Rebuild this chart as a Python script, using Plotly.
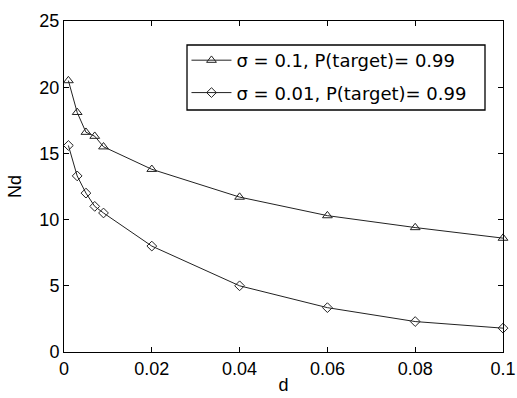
import plotly.graph_objects as go

d_vals = [0.001, 0.003, 0.005, 0.007, 0.009, 0.02, 0.04, 0.06, 0.08, 0.1]
nd_sigma_01 = [20.5, 18.1, 16.6, 16.3, 15.5, 13.8, 11.7, 10.3, 9.4, 8.6]
nd_sigma_001 = [15.6, 13.3, 12.0, 11.0, 10.5, 8.0, 5.0, 3.35, 2.3, 1.8]
series_names = ["σ = 0.1, P(target)= 0.99", "σ = 0.01, P(target)= 0.99"]
x_ticks = [0, 0.02, 0.04, 0.06, 0.08, 0.1]
x_tick_text = ["0", "0.02", "0.04", "0.06", "0.08", "0.1"]
y_ticks = [0, 5, 10, 15, 20, 25]

FONT = "Liberation Sans, Arial"

fig = go.Figure()
fig.add_trace(go.Scatter(
    x=d_vals, y=nd_sigma_01, mode="lines+markers", name=series_names[0],
    legendgroup="a",
    line=dict(color="#222222", width=1),
    marker=dict(symbol="triangle-up-open", size=8.5, color="#222222", line=dict(width=1)),
    cliponaxis=False,
))
fig.add_trace(go.Scatter(
    x=d_vals, y=nd_sigma_001, mode="lines+markers", name=series_names[1],
    legendgroup="b",
    line=dict(color="#222222", width=1),
    marker=dict(symbol="diamond-open", size=7.5, color="#222222", line=dict(width=1)),
    cliponaxis=False,
))

axis_common = dict(
    showgrid=False, zeroline=False, showline=True, linecolor="black", linewidth=1,
    mirror="ticks", ticks="inside", ticklen=5, tickcolor="black", automargin=False,
    tickfont=dict(family=FONT, size=18, color="black"),
)
fig.update_xaxes(range=[0, 0.1], tickvals=x_ticks, ticktext=x_tick_text,
                 title=dict(text="d", font=dict(family=FONT, size=18, color="black"), standoff=0),
                 **axis_common)
fig.update_yaxes(range=[0, 25], tickvals=y_ticks,
                 title=dict(text="Nd", font=dict(family=FONT, size=18, color="black"), standoff=13),
                 **axis_common)

# legend frame (drawn as a shape so its size matches the original box)
fig.add_shape(type="rect", xref="paper", yref="paper",
              x0=0.2802, x1=0.959, y0=0.7311, y1=0.9275,
              line=dict(color="black", width=1.3), fillcolor="white", layer="above")

fig.update_layout(
    width=517, height=398,
    margin=dict(l=64, r=14, t=21, b=46),
    paper_bgcolor="white", plot_bgcolor="white",
    showlegend=True,
    legend=dict(
        x=0.279, y=0.9366, xanchor="left", yanchor="top",
        bgcolor="rgba(0,0,0,0)", borderwidth=0,
        font=dict(family="DejaVu Sans", size=18, color="black"),
        itemwidth=40, tracegroupgap=6,
    ),
)

fig.write_html(
    "out.html",
    config={"displayModeBar": False},
    post_script="document.body.style.margin='0';document.body.style.overflow='hidden';",
)
